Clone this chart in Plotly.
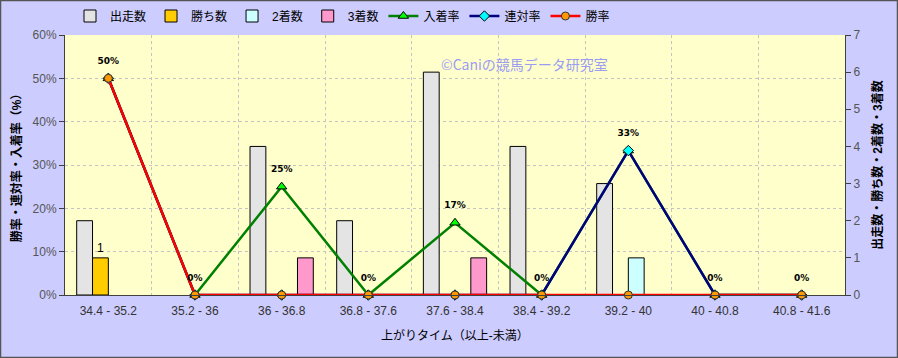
import plotly.graph_objects as go

categories = ["34.4 - 35.2", "35.2 - 36", "36 - 36.8", "36.8 - 37.6", "37.6 - 38.4",
              "38.4 - 39.2", "39.2 - 40", "40 - 40.8", "40.8 - 41.6"]
runs = [2, 0, 4, 2, 6, 4, 3, 0, 0]
wins = [1, 0, 0, 0, 0, 0, 0, 0, 0]
seconds = [0, 0, 0, 0, 0, 0, 1, 0, 0]
thirds = [0, 0, 1, 0, 1, 0, 0, 0, 0]
place_rate = [50, 0, 25, 0, 16.67, 0, 33.33, 0, 0]
quinella_rate = [50, 0, 0, 0, 0, 0, 33.33, 0, 0]
win_rate = [50, 0, 0, 0, 0, 0, 0, 0, 0]

W, H = 898, 358
ML, MR, MT, MB = 65, 53, 35, 63
PW, PH = W - ML - MR, H - MT - MB

FONT = "Liberation Sans, Noto Sans CJK JP, sans-serif"
LABEL_FONT = dict(family="DejaVu Sans, Noto Sans CJK JP", size=9, color="#000000", weight="bold")

fig = go.Figure()

bar_specs = [
    ("出走数", runs, "#E4E4E4"),
    ("勝ち数", wins, "#FFCC00"),
    ("2着数", seconds, "#CCFFFF"),
    ("3着数", thirds, "#FF99CC"),
]
for name, vals, col in bar_specs:
    txt = [str(v) if (name == "勝ち数" and v > 0) else "" for v in vals]
    fig.add_trace(go.Bar(
        x=categories, y=[v if v else None for v in vals], name=name, yaxis="y",
        marker=dict(color=col, line=dict(color="#000000", width=1)),
        text=txt, textposition="outside", cliponaxis=False,
        textfont=dict(family=FONT, size=12, color="#000000"),
    ))

fig.add_trace(go.Scatter(
    x=categories, y=place_rate, name="入着率", yaxis="y2", mode="lines+markers",
    line=dict(color="#008000", width=2.5),
    marker=dict(symbol="triangle-up", size=9, color="#00FF00", line=dict(color="#000000", width=1)),
    cliponaxis=False,
))
fig.add_trace(go.Scatter(
    x=categories, y=quinella_rate, name="連対率", yaxis="y2", mode="lines+markers",
    line=dict(color="#000080", width=2.5),
    marker=dict(symbol="diamond", size=8, color="#00FFFF", line=dict(color="#000000", width=1)),
    cliponaxis=False,
))
fig.add_trace(go.Scatter(
    x=categories, y=win_rate, name="勝率", yaxis="y2", mode="lines+markers",
    line=dict(color="#FF0000", width=2.5),
    marker=dict(symbol="circle", size=8, color="#FF9900", line=dict(color="#333333", width=1)),
    cliponaxis=False,
))
# data labels for 入着率
fig.add_trace(go.Scatter(
    x=categories, y=place_rate, yaxis="y2", mode="markers+text", showlegend=False,
    hoverinfo="skip", marker=dict(size=18, color="rgba(0,0,0,0)"),
    text=[f"{round(v)}%" for v in place_rate], textposition="top center",
    textfont=LABEL_FONT, cliponaxis=False,
))

fig.update_layout(
    width=W, height=H,
    margin=dict(l=ML, r=MR, t=MT, b=MB, pad=0, autoexpand=False),
    paper_bgcolor="#CCCCFF", plot_bgcolor="#FFFFCC",
    font=dict(family=FONT, size=12, color="#000000"),
    barmode="group", bargap=0.27, bargroupgap=0,
    showlegend=True,
    legend=dict(orientation="h", xref="container", yref="container",
                x=70 / W, y=1 - 16 / H, xanchor="left", yanchor="middle",
                bgcolor="rgba(0,0,0,0)", font=dict(size=12, family=FONT), itemwidth=30,
                tracegroupgap=0),
    xaxis=dict(
        type="category", range=[-0.5, len(categories) - 0.5],
        tickson="boundaries", showgrid=True, gridcolor="#C4C4C4",
        griddash="dot", gridwidth=1, ticks="", showline=True, linecolor="#404040",
        tickfont=dict(size=12, color="#333333"), ticklabelstandoff=5,
        title=dict(text="上がりタイム（以上-未満）", font=dict(size=12), standoff=14),
        zeroline=False,
    ),
    yaxis=dict(
        side="right", range=[0, 7], dtick=1, showgrid=False, zeroline=False,
        showline=True, linecolor="#404040", ticks="outside", ticklen=5, tickcolor="#404040",
        tickfont=dict(size=12, color="#555555"),
        title=dict(text="<b>出走数・勝ち数・2着数・3着数</b>", font=dict(size=12), standoff=14),
    ),
    yaxis2=dict(
        side="left", overlaying="y", range=[0, 60], dtick=10, ticksuffix="%",
        showgrid=True, gridcolor="#C4C4C4", griddash="dot", gridwidth=1, zeroline=False,
        showline=True, linecolor="#404040", ticks="outside", ticklen=5, tickcolor="#404040",
        tickfont=dict(size=12, color="#555555"),
        title=dict(text="<b>勝率・連対率・入着率（%）</b>", font=dict(size=12), standoff=8),
    ),
    annotations=[dict(
        text="©Caniの競馬データ研究室", xref="paper", yref="paper",
        x=(524 - ML) / PW, y=1 - (52 - MT) / PH, showarrow=False,
        font=dict(size=14, color="#9C9CF2", family="Noto Sans CJK JP"),
    )],
    shapes=[dict(
        type="rect", xref="paper", yref="paper",
        x0=-ML / PW + 0.5 / PW, x1=1 + (MR - 0.5) / PW,
        y0=-(MB - 0.5) / PH, y1=1 + (MT - 0.5) / PH,
        line=dict(color="#555555", width=1.5), layer="above",
    )],
)

fig.write_html("out.html")
